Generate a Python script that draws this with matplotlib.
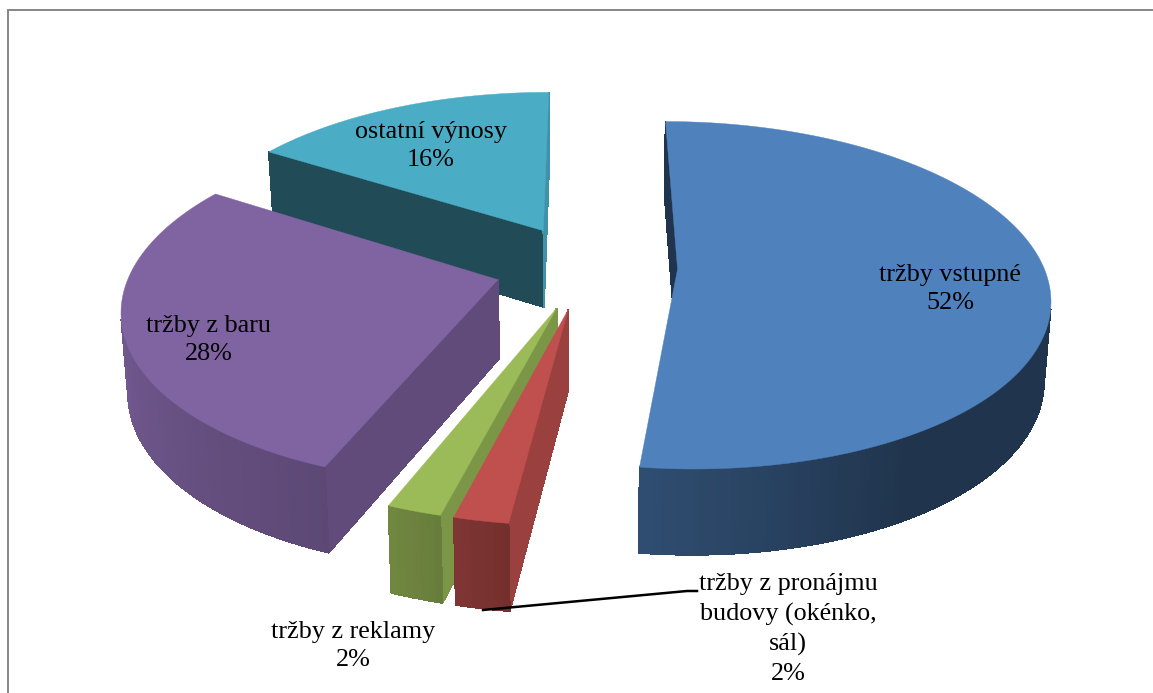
import numpy as np
import matplotlib
matplotlib.use("Agg")
import matplotlib.pyplot as plt
from matplotlib.patches import Polygon

# Revenue shares, clockwise from twelve o'clock
categories = ["tržby vstupné", "tržby z pronájmu\nbudovy (okénko,\nsál)",
              "tržby z reklamy", "tržby z baru", "ostatní výnosy"]
shares = [52, 2, 2, 28, 16]
colors = ["#4F81BD", "#C0504D", "#9BBB59", "#8064A2", "#4BACC6"]

# Brightness of the two flat cut faces of each slice
start_face_shade = [0.41, 0.80, 0.80, 0.75, 0.44]
end_face_shade = [0.41, 0.80, 0.80, 0.75, 0.85]

# Label centres in pixels
label_x = [950, 788, 353, 209, 431]
label_y = [289, 629, 646, 340, 146]

# Back slices first so the front ones paint over them
draw_order = [4, 0, 3, 2, 1]

W, H = 1153, 693

# Perspective camera, all lengths in pixels except world units of one pie radius
CX, CY = 586, 266.5
RX, RY = 366, 169
PERSP = 0.15
EXPLODE = 0.25
THICK = 78
THICK_PERSP = 0.09
TAPER = 0.985


def project(X, Z, low=False):
    """World point on the pie plane to pixels, low=True for the underside."""
    X = np.asarray(X, dtype=float)
    Z = np.asarray(Z, dtype=float)
    f = 1 + PERSP * Z
    sx = RX * X / f
    sy = -RY * Z / f
    if low:
        return CX + sx * TAPER, CY + sy + THICK / (1 + THICK_PERSP * Z)
    return CX + sx, CY + sy


def wall_shade(theta):
    # lighting round the rim, darkest lower right
    return np.interp(theta, [0, 150, 187, 201, 275, 360],
                     [0.41, 0.41, 0.60, 0.72, 0.94, 0.94])


def darken(color, k):
    return tuple(c * k for c in matplotlib.colors.to_rgb(color))


def signed_area(xs, ys):
    return 0.5 * np.sum(xs * np.roll(ys, -1) - np.roll(xs, -1) * ys)


def add_quad(ax, xs, ys, color):
    # no antialiasing, otherwise the joins between rim strips show up as stripes
    ax.add_patch(Polygon(np.column_stack([xs, ys]), closed=True, facecolor=color,
                         edgecolor=color, linewidth=0.5, antialiased=False))


def draw_slice(ax, start, sweep, color, start_k, end_k):
    mid = np.radians(start + sweep / 2)
    ox, oz = EXPLODE * np.sin(mid), EXPLODE * np.cos(mid)

    theta = np.linspace(start, start + sweep, max(int(sweep), 6) + 1)
    ax_x = ox + np.sin(np.radians(theta))
    ax_z = oz + np.cos(np.radians(theta))
    tx, ty = project(ax_x, ax_z)
    bx, by = project(ax_x, ax_z, low=True)
    atx, aty = project(ox, oz)
    abx, aby = project(ox, oz, low=True)

    # flat cut faces, skipped when they face away from the camera
    qx = np.array([atx, tx[0], bx[0], abx])
    qy = np.array([aty, ty[0], by[0], aby])
    if signed_area(qx, qy) < 0:
        add_quad(ax, qx, qy, darken(color, start_k))
    qx = np.array([atx, abx, bx[-1], tx[-1]])
    qy = np.array([aty, aby, by[-1], ty[-1]])
    if signed_area(qx, qy) < 0:
        add_quad(ax, qx, qy, darken(color, end_k))

    # rim as narrow strips so the shading can vary round the slice
    for i in range(len(theta) - 1):
        qx = np.array([tx[i], tx[i + 1], bx[i + 1], bx[i]])
        qy = np.array([ty[i], ty[i + 1], by[i + 1], by[i]])
        if signed_area(qx, qy) < 0:
            add_quad(ax, qx, qy, darken(color, wall_shade((theta[i] + theta[i + 1]) / 2)))

    # top face
    ax.add_patch(Polygon(np.column_stack([np.r_[atx, tx], np.r_[aty, ty]]), closed=True,
                         facecolor=color, edgecolor=color, linewidth=0.3))


fig = plt.figure(figsize=(W / 100, H / 100), dpi=100)
ax = fig.add_axes([0, 0, 1, 1])
ax.set_xlim(0, W)
ax.set_ylim(H, 0)
ax.axis("off")

# chart area border, only the top and left sides fall inside the figure
ax.plot([7.5, 7.5, W], [H, 10, 10], color="#868686", lw=1.4, solid_joinstyle="miter")

sweeps = np.array(shares) / sum(shares) * 360
starts = np.r_[0, np.cumsum(sweeps)[:-1]]
for i in draw_order:
    draw_slice(ax, starts[i], sweeps[i], colors[i], start_face_shade[i], end_face_shade[i])

# leader line for the small rental slice
ax.plot([483, 687, 697], [610, 591, 591], color="black", lw=1.8)

for name, share, x, y in zip(categories, shares, label_x, label_y):
    ax.text(x, y, f"{name}\n{share}%", ha="center", va="center", family="Liberation Serif",
            fontsize=18.8, color="black", linespacing=1.4)

fig.savefig("out.png", dpi=100)
